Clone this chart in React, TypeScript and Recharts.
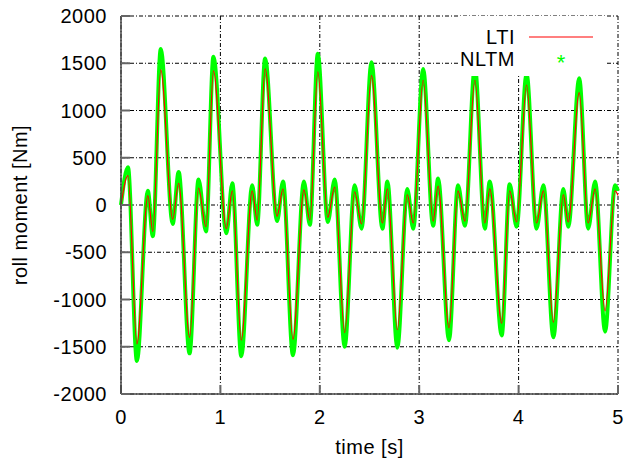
import React from "react";
import {
    LineChart,
    Line,
    XAxis,
    YAxis,
    CartesianGrid,
    Legend,
    Label,
} from "recharts";

// values (extrema of each wiggle)
const times = [
    0, 0.07, 0.16, 0.27, 0.32, 0.4, 0.52, 0.58, 0.69, 0.78, 0.855, 0.93,
    1.06, 1.12, 1.21, 1.32, 1.37, 1.45, 1.57, 1.63, 1.73, 1.84, 1.9, 1.98,
    2.08, 2.15, 2.25, 2.35, 2.42, 2.52, 2.63, 2.68, 2.78, 2.88, 2.94, 3.04,
    3.14, 3.19, 3.3, 3.39, 3.46, 3.56, 3.66, 3.71, 3.83, 3.91, 3.98, 4.08,
    4.18, 4.25, 4.35, 4.45, 4.5, 4.61, 4.7, 4.77, 4.87, 4.97, 5,
];
const nltm = [
    0, 400, -1650, 150, -330, 1650, -200, 350, -1570, 270, -280, 1570,
    -300, 230, -1600, 210, -210, 1550, -170, 250, -1590, 250, -210, 1600,
    -180, 270, -1500, 210, -250, 1510, -250, 250, -1510, 170, -250, 1440,
    -220, 280, -1430, 210, -220, 1460, -250, 250, -1380, 220, -230, 1390,
    -250, 210, -1400, 170, -230, 1340, -250, 250, -1340, 210, 150,
];
const lti = [
    0, 310, -1470, 100, -280, 1430, -150, 230, -1400, 180, -230, 1420,
    -250, 150, -1430, 150, -160, 1440, -120, 170, -1420, 160, -160, 1410,
    -130, 190, -1350, 140, -200, 1370, -190, 170, -1320, 110, -190, 1320,
    -170, 200, -1300, 150, -170, 1320, -190, 170, -1250, 150, -180, 1270,
    -190, 150, -1240, 110, -180, 1190, -190, 170, -1120, 150, 100,
];
const xTicks = [0, 1, 2, 3, 4, 5];
const yTicks = [-2000, -1500, -1000, -500, 0, 500, 1000, 1500, 2000];

const data = times.map((t, i) => ({ t, lti: lti[i], nltm: nltm[i] }));

const font = "'Liberation Sans', Arial, sans-serif";
const tickStyle = { fill: "#000", fontSize: 20, fontFamily: font, letterSpacing: 0.5 };
const axisLine = { stroke: "#444", strokeWidth: 1.5 };
const tickLine = { stroke: "#666", strokeWidth: 2 };

function KeyBox() {
    return (
        <svg width={147} height={60} style={{ display: "block", background: "#fff" }}>
            <text x={57} y={28} textAnchor="end" fontSize={20} fontFamily={font} letterSpacing={0.5}>
                LTI
            </text>
            <line x1={71} x2={135} y1={21} y2={21} stroke="#ff0000" strokeWidth={1.2} />
            <text x={57} y={50} textAnchor="end" fontSize={20} fontFamily={font} letterSpacing={0.5}>
                NLTM
            </text>
            <text x={103} y={54} textAnchor="middle" fontSize={22} fill="#00ff00" fontFamily={font}>
                *
            </text>
        </svg>
    );
}

export default function App() {
    return (
        <div style={{ position: "absolute", left: 0, top: 0, width: 627, height: 463, background: "#fff" }}>
            <LineChart
                width={627}
                height={463}
                data={data}
                margin={{ top: 16, right: 9, bottom: 0, left: 0 }}
                style={{ fontFamily: font }}
            >
                <CartesianGrid stroke="#000" strokeDasharray="4 2 1 2" strokeWidth={1} />
                <XAxis
                    dataKey="t"
                    type="number"
                    domain={[0, 5]}
                    ticks={xTicks}
                    height={69}
                    tickSize={-9}
                    tickMargin={25}
                    tick={tickStyle}
                    axisLine={axisLine}
                    tickLine={tickLine}
                >
                    <Label value="time [s]" position="insideBottom" offset={9} fill="#000" fontSize={20} fontFamily={font} letterSpacing={0.5} />
                </XAxis>
                <XAxis
                    xAxisId="top"
                    orientation="top"
                    dataKey="t"
                    type="number"
                    domain={[0, 5]}
                    ticks={xTicks}
                    height={0}
                    tickSize={-9}
                    tickFormatter={() => ""}
                    axisLine={axisLine}
                    tickLine={tickLine}
                />
                <YAxis
                    type="number"
                    domain={[-2000, 2000]}
                    ticks={yTicks}
                    width={121}
                    tickSize={-9}
                    tickMargin={23}
                    tick={tickStyle}
                    axisLine={axisLine}
                    tickLine={tickLine}
                >
                    <Label
                        content={({ viewBox }: any) => {
                            const cy = viewBox.y + viewBox.height / 2;
                            return (
                                <text
                                    x={20}
                                    y={cy}
                                    transform={`rotate(-90, 20, ${cy})`}
                                    textAnchor="middle"
                                    dominantBaseline="central"
                                    fontSize={20}
                                    fontFamily={font}
                                    letterSpacing={0.5}
                                >
                                    roll moment [Nm]
                                </text>
                            );
                        }}
                    />
                </YAxis>
                <YAxis
                    yAxisId="right"
                    orientation="right"
                    type="number"
                    domain={[-2000, 2000]}
                    ticks={yTicks}
                    width={0}
                    tickSize={-9}
                    tickFormatter={() => ""}
                    axisLine={axisLine}
                    tickLine={tickLine}
                />
                <Line
                    type="monotone"
                    dataKey="nltm"
                    name="NLTM"
                    stroke="#00ff00"
                    strokeWidth={4}
                    dot={false}
                    isAnimationActive={false}
                />
                <Line
                    type="monotone"
                    dataKey="lti"
                    name="LTI"
                    stroke="#ff0000"
                    strokeWidth={1.2}
                    dot={false}
                    isAnimationActive={false}
                />
                <Legend
                    layout="vertical"
                    align="center"
                    verticalAlign="middle"
                    content={() => <KeyBox />}
                    wrapperStyle={{ left: 458, top: 16, width: 147, height: 60 }}
                />
            </LineChart>
        </div>
    );
}
